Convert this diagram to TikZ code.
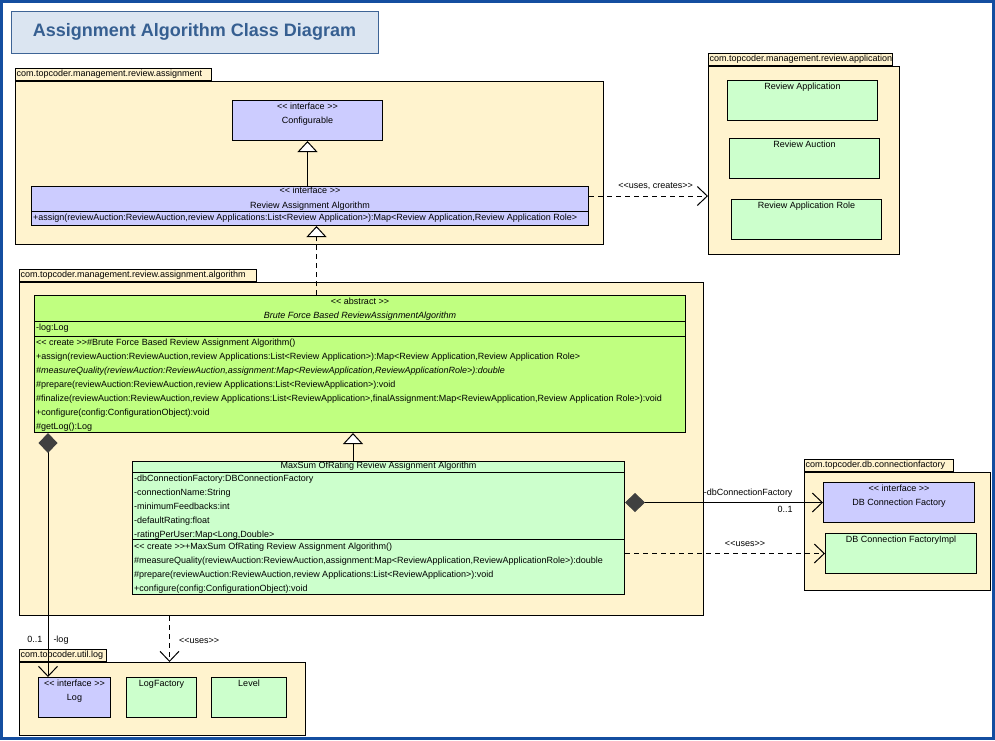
\documentclass[tikz,border=0pt]{standalone}
\usepackage{fontspec}
\newfontfamily\umlfont{Liberation Sans}
\usetikzlibrary{arrows.meta,positioning}

\definecolor{frameblue}{RGB}{20,78,160}
\definecolor{titlefill}{RGB}{219,229,241}
\definecolor{titleline}{RGB}{62,100,150}
\definecolor{titletext}{RGB}{54,95,145}
\definecolor{pkgfill}{RGB}{255,243,206}
\definecolor{ifacefill}{RGB}{204,204,255}
\definecolor{classfill}{RGB}{204,255,204}
\definecolor{absfill}{RGB}{192,255,128}
\definecolor{diamondgray}{RGB}{64,64,64}

\tikzset{
  titlebox/.style={draw=titleline, fill=titlefill, line width=1pt, anchor=north west,
    minimum width=367pt, minimum height=42pt, text=titletext,
    font=\umlfont\bfseries\fontsize{18}{22}\selectfont},
  package/.style={draw, fill=pkgfill, line width=1pt, anchor=north west, inner sep=0pt},
  pkgtab/.style={draw, fill=pkgfill, line width=1pt, anchor=south west, minimum height=12pt,
    inner xsep=1pt, inner ysep=0pt, align=left, text height=6.5pt, text depth=1.9pt},
  classbox/.style={draw, fill=classfill, line width=1pt, anchor=north west, inner sep=0pt},
  ifacebox/.style={classbox, fill=ifacefill},
  absbox/.style={classbox, fill=absfill},
  member/.style={inner sep=0pt, anchor=west, text height=6.5pt, text depth=1.9pt},
  heading/.style={member, anchor=center},
  lbl/.style={inner sep=1pt, text height=6.5pt, text depth=1.9pt},
  generalize/.style={line width=1pt, -{Triangle[length=11pt,width=20pt,fill=white]}},
  realize/.style={generalize, dash pattern=on 5pt off 4pt},
  depend/.style={line width=1pt, dash pattern=on 5pt off 4pt,
    -{Straight Barb[length=10pt,width=19pt]}},
  compose/.style={line width=1pt,
    {Diamond[length=20pt,width=19pt,color=diamondgray]}-{Straight Barb[length=10pt,width=19pt]}},
}

\begin{document}
\begin{tikzpicture}[x=1pt, y=-1pt, font=\umlfont\fontsize{9}{11}\selectfont]
  \useasboundingbox (0,0) rectangle (995,740);
  \draw[frameblue, line width=3pt] (1.5,1.5) rectangle (993.5,738.5);

  % title
  \node[titlebox] (title) at (10.5,10.5) {Assignment Algorithm Class Diagram};

  % packages
  \node[package, minimum width=588pt, minimum height=163pt] (assignpkg) at (15,81) {};
  \node[pkgtab, text width=194pt] (assigntab) at (assignpkg.north west) {com.topcoder.management.review.assignment};
  \node[package, minimum width=191pt, minimum height=188pt] (apppkg) at (708,66) {};
  \node[pkgtab, text width=182pt] (apptab) at (apppkg.north west) {com.topcoder.management.review.application};
  \node[package, minimum width=684pt, minimum height=333pt] (algpkg) at (19,282) {};
  \node[pkgtab, text width=235pt] (algtab) at (algpkg.north west) {com.topcoder.management.review.assignment.algorithm};
  \node[package, minimum width=186pt, minimum height=118pt] (dbpkg) at (804,472) {};
  \node[pkgtab, text width=147pt] (dbtab) at (dbpkg.north west) {com.topcoder.db.connectionfactory};
  \node[package, minimum width=286pt, minimum height=73pt] (logpkg) at (19,662) {};
  \node[pkgtab, text width=85pt] (logtab) at (logpkg.north west) {com.topcoder.util.log};

  % review.assignment
  \node[ifacebox, minimum width=150pt, minimum height=40pt] (configurable) at (232,100) {};
  \node[heading] (cfg-st) at ([yshift=-7pt]configurable.north) {<< interface >>};
  \node[heading] (cfg-name) at ([yshift=-21pt]configurable.north) {Configurable};

  \node[ifacebox, minimum width=557pt, minimum height=39pt] (raa) at (31,186) {};
  \node[heading] (raa-st) at ([yshift=-5.5pt]raa.north) {<< interface >>};
  \node[heading] (raa-name) at ([yshift=-20pt]raa.north) {Review Assignment Algorithm};
  \draw[line width=1pt] ([yshift=-25pt]raa.north west) -- ([yshift=-25pt]raa.north east);
  \node[member] (raa-m1) at ([xshift=2pt,yshift=-32pt]raa.north west)
    {+assign(reviewAuction:ReviewAuction,review Applications:List<Review Application>):Map<Review Application,Review Application Role>};

  % review.application
  \node[classbox, minimum width=150pt, minimum height=40pt] (reviewapp) at (727,80) {};
  \node[heading] (reviewapp-name) at ([yshift=-7pt]reviewapp.north) {Review Application};
  \node[classbox, minimum width=150pt, minimum height=40pt] (reviewauction) at (729,138) {};
  \node[heading] (reviewauction-name) at ([yshift=-7pt]reviewauction.north) {Review Auction};
  \node[classbox, minimum width=150pt, minimum height=40pt] (reviewrole) at (731,199) {};
  \node[heading] (reviewrole-name) at ([yshift=-7pt]reviewrole.north) {Review Application Role};

  % review.assignment.algorithm
  \node[absbox, minimum width=651pt, minimum height=137pt] (brute) at (34,295) {};
  \node[heading] (bf-st) at ([yshift=-7pt]brute.north) {<< abstract >>};
  \node[heading] (bf-name) at ([yshift=-21pt]brute.north) {\itshape Brute Force Based ReviewAssignmentAlgorithm};
  \draw[line width=1pt] ([yshift=-26.5pt]brute.north west) -- ([yshift=-26.5pt]brute.north east);
  \node[member] (bf-a1) at ([xshift=2pt,yshift=-33.5pt]brute.north west) {-log:Log};
  \draw[line width=1pt] ([yshift=-41pt]brute.north west) -- ([yshift=-41pt]brute.north east);
  \foreach \txt [count=\i] in {
      {<< create >>\#Brute Force Based Review Assignment Algorithm()},
      {+assign(reviewAuction:ReviewAuction,review Applications:List<Review Application>):Map<Review Application,Review Application Role>},
      {\itshape \#measureQuality(reviewAuction:ReviewAuction,assignment:Map<ReviewApplication,ReviewApplicationRole>):double},
      {\#prepare(reviewAuction:ReviewAuction,review Applications:List<ReviewApplication>):void},
      {\#finalize(reviewAuction:ReviewAuction,review Applications:List<ReviewApplication>,finalAssignment:Map<ReviewApplication,Review Application Role>):void},
      {+configure(config:ConfigurationObject):void},
      {\#getLog():Log}}
    \node[member] (bf-m\i) at ([xshift=2pt,yshift={-48pt-14pt*(\i-1)}]brute.north west) {\txt};

  \node[classbox, minimum width=492pt, minimum height=133pt] (maxsum) at (132,461) {};
  \node[heading] (ms-name) at ([yshift=-5.5pt]maxsum.north) {MaxSum OfRating Review Assignment Algorithm};
  \draw[line width=1pt] ([yshift=-11.5pt]maxsum.north west) -- ([yshift=-11.5pt]maxsum.north east);
  \foreach \txt [count=\i] in {
      {-dbConnectionFactory:DBConnectionFactory},
      {-connectionName:String},
      {-minimumFeedbacks:int},
      {-defaultRating:float},
      {-ratingPerUser:Map<Long,Double>}}
    \node[member] (ms-a\i) at ([xshift=2pt,yshift={-18.5pt-13.8pt*(\i-1)}]maxsum.north west) {\txt};
  \draw[line width=1pt] ([yshift=-78pt]maxsum.north west) -- ([yshift=-78pt]maxsum.north east);
  \foreach \txt [count=\i] in {
      {<< create >>+MaxSum OfRating Review Assignment Algorithm()},
      {\#measureQuality(reviewAuction:ReviewAuction,assignment:Map<ReviewApplication,ReviewApplicationRole>):double},
      {\#prepare(reviewAuction:ReviewAuction,review Applications:List<ReviewApplication>):void},
      {+configure(config:ConfigurationObject):void}}
    \node[member] (ms-m\i) at ([xshift=2pt,yshift={-86.5pt-13.8pt*(\i-1)}]maxsum.north west) {\txt};

  % db.connectionfactory
  \node[ifacebox, minimum width=151pt, minimum height=40pt] (dbcf) at (823,482) {};
  \node[heading] (dbcf-st) at ([yshift=-7pt]dbcf.north) {<< interface >>};
  \node[heading] (dbcf-name) at ([yshift=-21pt]dbcf.north) {DB Connection Factory};
  \node[classbox, minimum width=151pt, minimum height=40pt] (dbcfimpl) at (825,533) {};
  \node[heading] (dbcfimpl-name) at ([yshift=-7pt]dbcfimpl.north) {DB Connection FactoryImpl};

  % util.log
  \node[ifacebox, minimum width=72pt, minimum height=40pt] (log) at (38,677) {};
  \node[heading] (log-st) at ([yshift=-7pt]log.north) {<< interface >>};
  \node[heading] (log-name) at ([yshift=-21pt]log.north) {Log};
  \node[classbox, minimum width=70pt, minimum height=40pt] (logfactory) at (126,677) {};
  \node[heading] (logfactory-name) at ([yshift=-7pt]logfactory.north) {LogFactory};
  \node[classbox, minimum width=75pt, minimum height=40pt] (level) at (211,677) {};
  \node[heading] (level-name) at ([yshift=-7pt]level.north) {Level};

  % connectors
  \coordinate (realx) at (316.5,0);
  \coordinate (genx) at (353,0);
  \coordinate (usesy) at (0,196);
  \coordinate (logx) at (48,0);
  \coordinate (logdepx) at (169.5,0);

  \draw[generalize] (configurable.south |- raa.north) -- (configurable.south);
  \draw[realize] (brute.north -| realx) -- (raa.south -| realx);
  \draw[depend] (raa.east |- usesy) -- (apppkg.west |- usesy)
    node[lbl, pos=0.56, above=4pt] {<<uses, creates>>};
  \draw[generalize] (maxsum.north -| genx) -- (brute.south -| genx);
  \draw[compose] (maxsum.east |- dbcf.west) -- (dbcf.west)
    node[lbl, pos=1, anchor=east, xshift=-29pt, yshift=9pt] {-dbConnectionFactory}
    node[lbl, pos=1, anchor=east, xshift=-29pt, yshift=-8pt] {0..1};
  \draw[depend] (maxsum.east |- dbcfimpl.west) -- (dbcfimpl.west)
    node[lbl, pos=0.6, above=4pt] {<<uses>>};
  \draw[compose] (brute.south -| logx) -- (log.north -| logx)
    node[lbl, pos=0.85, anchor=east, xshift=-4pt] {0..1}
    node[lbl, pos=0.85, anchor=west, xshift=4pt] {-log};
  \draw[depend] (algpkg.south -| logdepx) -- (logpkg.north -| logdepx)
    node[lbl, pos=0.55, anchor=west, xshift=8pt] {<<uses>>};
\end{tikzpicture}
\end{document}
